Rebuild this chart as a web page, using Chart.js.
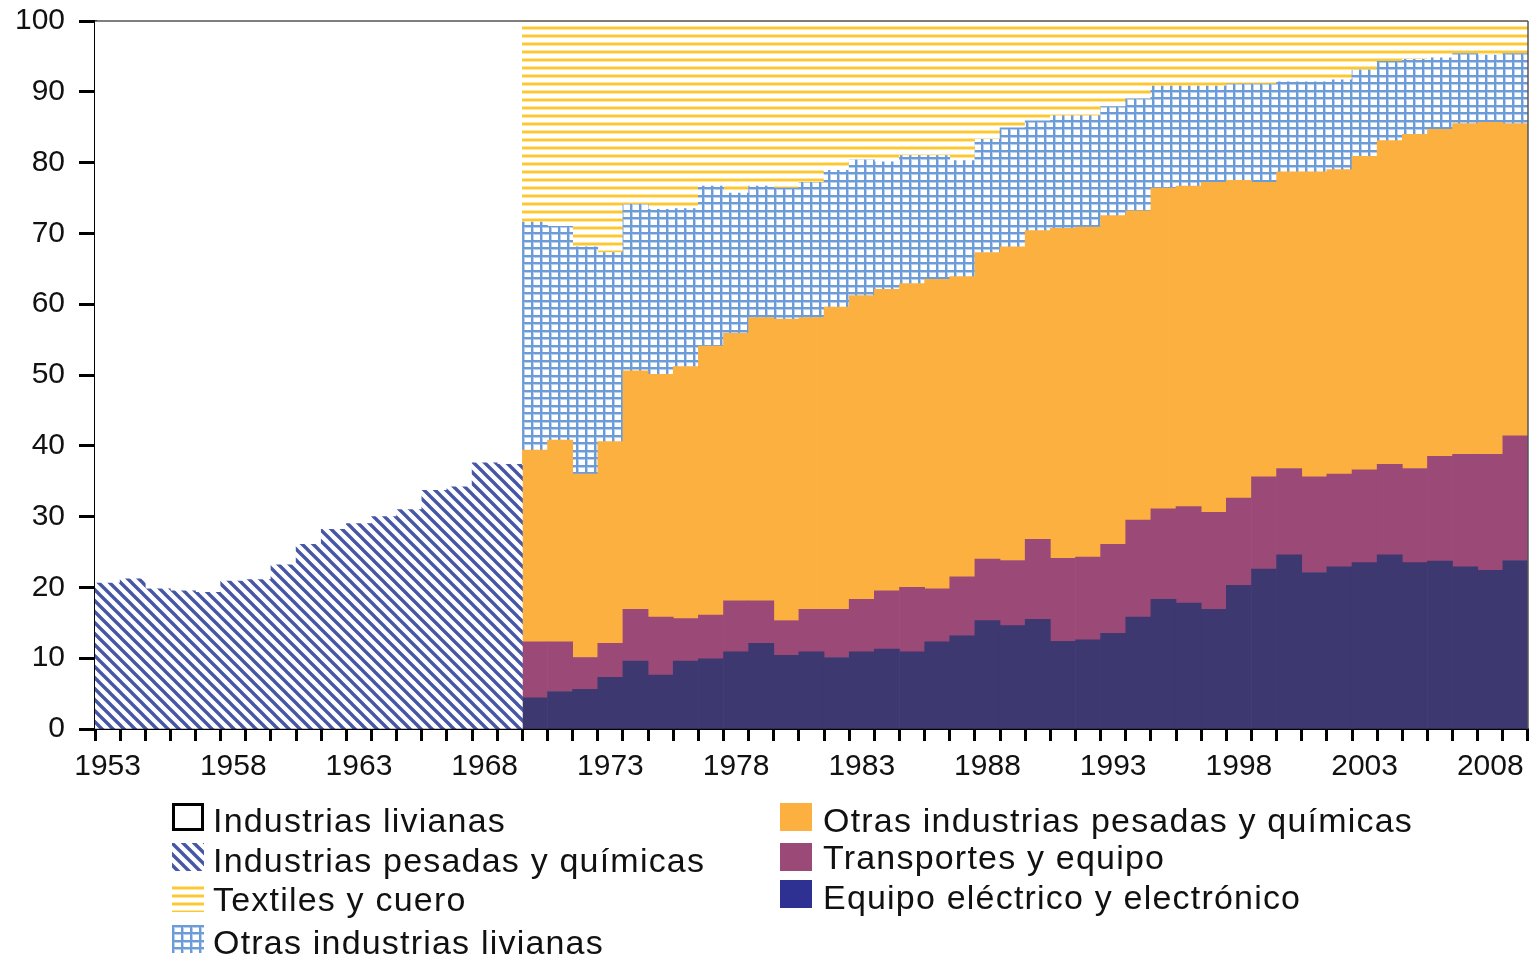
<!DOCTYPE html>
<html>
<head>
<meta charset="utf-8">
<script src="https://cdn.jsdelivr.net/npm/chart.js@4.4.1/dist/chart.umd.min.js"></script>
<style>
	html, body { margin: 0; padding: 0; background: #fff; }
	#wrap { position: relative; width: 1530px; height: 958px; overflow: hidden; }
	#chart { position: absolute; left: 0; top: 0; }
	.item { position: absolute; font-family: "Liberation Sans", Arial, sans-serif; font-size: 34px;
		line-height: 34px; letter-spacing: 1.2px; color: #111; white-space: nowrap; }
	.sw { position: absolute; width: 32px; height: 28px; }
</style>
</head>
<body>
<div id="wrap">
	<canvas id="chart" width="1530" height="958"></canvas>

	<div class="sw" style="left:172px; top:803px; width:26px; height:22px; border:3px solid #000;"></div>
	<canvas class="sw" id="sw-hatch" width="32" height="28" style="left:172px; top:843px;"></canvas>
	<canvas class="sw" id="sw-text" width="32" height="28" style="left:172px; top:884px;"></canvas>
	<canvas class="sw" id="sw-grid" width="32" height="28" style="left:172px; top:925px;"></canvas>
	<div class="item" style="left:213px; top:803px;">Industrias livianas</div>
	<div class="item" style="left:213px; top:843px;">Industrias pesadas y químicas</div>
	<div class="item" style="left:213px; top:882px;">Textiles y cuero</div>
	<div class="item" style="left:213px; top:925px;">Otras industrias livianas</div>

	<div class="sw" style="left:780px; top:803px; background:#fbb040;"></div>
	<div class="sw" style="left:780px; top:843px; background:#9b4a78;"></div>
	<div class="sw" style="left:780px; top:880px; background:#2e3191;"></div>
	<div class="item" style="left:823px; top:803px;">Otras industrias pesadas y químicas</div>
	<div class="item" style="left:823px; top:840px;">Transportes y equipo</div>
	<div class="item" style="left:823px; top:880px;">Equipo eléctrico y electrónico</div>
</div>
<script>
const Years = [];
for (let y = 1953; y <= 2009; y++)
	Years.push(String(y));

// 1953-1969
const PesadasQuimicas = [ 20.6, 21.2, 19.8, 19.5, 19.3, 20.9, 21.1, 23.2, 26.1, 28.2,
		29.0, 30.0, 31.0, 33.7, 34.2, 37.6, 37.4 ];
const Livianas = [ 79.4, 78.8, 80.2, 80.5, 80.7, 79.1, 78.9, 76.8, 73.9, 71.8,
		71.0, 70.0, 69.0, 66.3, 65.8, 62.4, 62.6 ];

// 1970-2009
const EquipoElectrico = [ 4.4, 5.3, 5.6, 7.3, 9.6, 7.6, 9.6, 9.9, 10.9, 12.1,
		10.4, 10.9, 10.1, 10.9, 11.3, 10.9, 12.3, 13.2, 15.3, 14.6,
		15.5, 12.4, 12.6, 13.5, 15.8, 18.3, 17.8, 16.9, 20.3, 22.6,
		24.6, 22.1, 22.9, 23.5, 24.6, 23.5, 23.7, 22.9, 22.4, 23.8 ];
const Transportes = [ 7.9, 7.0, 4.5, 4.8, 7.3, 8.2, 6.0, 6.2, 7.2, 6.0,
		4.9, 6.0, 6.8, 7.4, 8.2, 9.1, 7.5, 8.3, 8.7, 9.2,
		11.3, 11.7, 11.7, 12.6, 13.7, 12.8, 13.6, 13.7, 12.3, 13.0,
		12.2, 13.5, 13.1, 13.1, 12.8, 13.3, 14.8, 15.9, 16.4, 17.6 ];
const OtrasPesadas = [ 27.1, 28.5, 25.9, 28.5, 33.7, 34.3, 35.6, 38.0, 37.8, 40.0,
		42.6, 41.2, 42.7, 42.9, 42.6, 42.9, 43.7, 42.4, 43.3, 44.3,
		43.6, 46.6, 46.6, 46.4, 43.7, 45.3, 45.3, 46.6, 44.9, 41.6,
		41.9, 43.1, 43.0, 44.3, 45.7, 47.2, 46.2, 46.7, 46.9, 44.1 ];
const OtrasLivianas = [ 32.2, 30.2, 32.1, 26.7, 23.5, 23.3, 22.3, 22.6, 19.8, 18.6,
		18.5, 19.1, 19.3, 19.2, 18.0, 18.1, 17.5, 16.4, 16.0, 16.8,
		15.5, 15.9, 15.7, 15.4, 15.8, 14.4, 14.1, 13.6, 13.6, 13.9,
		12.7, 12.7, 12.7, 12.2, 11.2, 10.6, 10.1, 9.9, 9.5, 9.9 ];
const Textiles = [ 28.4, 29.0, 31.9, 32.7, 25.9, 26.6, 26.5, 23.3, 24.3, 23.3,
		23.6, 22.8, 21.1, 19.6, 19.9, 19.0, 19.0, 19.7, 16.7, 15.1,
		14.1, 13.4, 13.4, 12.1, 11.0, 9.2, 9.2, 9.2, 8.9, 8.9,
		8.6, 8.6, 8.3, 6.9, 5.7, 5.4, 5.2, 4.6, 4.8, 4.6 ];

const FirstLate = 17;	// index of 1970

function Early(values)
{
	return Years.map((y, i) => i < FirstLate ? values[i] : null);
}

function Late(values)
{
	return Years.map((y, i) => i >= FirstLate ? values[i - FirstLate] : null);
}

function HatchPattern()
{
	const p = 11;
	const c = document.createElement("canvas");
	c.width = p; c.height = p;
	const ctx = c.getContext("2d");
	ctx.fillStyle = "#fff";
	ctx.fillRect(0, 0, p, p);
	ctx.strokeStyle = "#4757a6";
	ctx.lineWidth = 3.4;
	ctx.beginPath();
	for (let k = -1; k <= 1; k++)
	{
		ctx.moveTo(k * p - 1, -1);
		ctx.lineTo(k * p + p + 1, p + 1);
	}
	ctx.stroke();
	return ctx.createPattern(c, "repeat");
}

function GridPattern()
{
	const c = document.createElement("canvas");
	c.width = 9; c.height = 15;
	const ctx = c.getContext("2d");
	ctx.fillStyle = "#fff";
	ctx.fillRect(0, 0, 9, 15);
	ctx.fillStyle = "#b8d0ee";
	ctx.fillRect(2, 0, 1, 15);
	ctx.fillRect(0, 2, 9, 1);
	ctx.fillRect(0, 9, 9, 1);
	ctx.fillStyle = "#6c9cd7";
	ctx.fillRect(0, 0, 2, 15);
	ctx.fillRect(0, 0, 9, 2);
	ctx.fillRect(0, 7, 9, 2);
	return ctx.createPattern(c, "repeat");
}

function TextilePattern()
{
	const c = document.createElement("canvas");
	c.width = 4; c.height = 8;
	const ctx = c.getContext("2d");
	ctx.fillStyle = "#fff";
	ctx.fillRect(0, 0, 4, 8);
	ctx.fillStyle = "#ffe6a0";
	ctx.fillRect(0, 2, 4, 1);
	ctx.fillRect(0, 5, 4, 1);
	ctx.fillStyle = "#fec72c";
	ctx.fillRect(0, 3, 4, 2);
	return ctx.createPattern(c, "repeat");
}

const hatch = HatchPattern();
const grid = GridPattern();
const textile = TextilePattern();

function FillSwatch(id, pattern)
{
	const ctx = document.getElementById(id).getContext("2d");
	ctx.fillStyle = pattern;
	ctx.fillRect(0, 0, 32, 28);
}
FillSwatch("sw-hatch", hatch);
FillSwatch("sw-grid", grid);
FillSwatch("sw-text", textile);

const frameLines = {
	id: "frameLines",
	afterDraw(chart)
	{
		const { ctx, chartArea: { top, right, bottom, left } } = chart;
		ctx.save();
		ctx.strokeStyle = "#555";
		ctx.lineWidth = 1.5;
		ctx.beginPath();
		ctx.moveTo(left, top);
		ctx.lineTo(right, top);
		ctx.moveTo(right, top);
		ctx.lineTo(right, bottom);
		ctx.stroke();
		ctx.restore();
	}
};

const tickFont = { family: "'Liberation Sans', Arial, sans-serif", size: 30 };

new Chart(document.getElementById("chart"), {
	type: "bar",
	data: {
		labels: Years,
		datasets: [
			{ label: "Industrias pesadas y químicas", data: Early(PesadasQuimicas), backgroundColor: hatch },
			{ label: "Equipo eléctrico y electrónico", data: Late(EquipoElectrico), backgroundColor: "#3d3870" },
			{ label: "Transportes y equipo", data: Late(Transportes), backgroundColor: "#9b4a78" },
			{ label: "Otras industrias pesadas y químicas", data: Late(OtrasPesadas), backgroundColor: "#fbb040" },
			{ label: "Otras industrias livianas", data: Late(OtrasLivianas), backgroundColor: grid },
			{ label: "Textiles y cuero", data: Late(Textiles), backgroundColor: textile },
			{ label: "Industrias livianas", data: Early(Livianas), backgroundColor: "#fff" },
		]
	},
	options: {
		responsive: false,
		animation: false,
		devicePixelRatio: 1,
		layout: { padding: { top: 21, right: 2, left: 0, bottom: 0 } },
		datasets: {
			bar: { categoryPercentage: 1, barPercentage: 1, borderWidth: 0 }
		},
		plugins: {
			legend: { display: false },
			tooltip: { enabled: true },
		},
		scales: {
			x: {
				stacked: true,
				offset: true,
				grid: { offset: true, drawOnChartArea: false, tickLength: 12, tickWidth: 3, tickColor: "#000" },
				border: { color: "#000", width: 2 },
				ticks: {
					autoSkip: false,
					maxRotation: 0,
					padding: 8,
					color: "#111",
					font: tickFont,
					callback: function(value, index)
					{
						return index % 5 == 0 ? Years[index] : "";
					}
				},
				afterFit: scale => { scale.height = 229; scale.paddingLeft = 0; scale.paddingRight = 0; },
			},
			y: {
				stacked: true,
				min: 0,
				max: 100,
				grid: { drawOnChartArea: false, tickLength: 16, tickWidth: 3, tickColor: "#000" },
				border: { color: "#000", width: 3 },
				ticks: { stepSize: 10, padding: 14, color: "#111", font: tickFont },
				afterFit: scale => { scale.width = 95; scale.paddingTop = 0; scale.paddingBottom = 0; },
			}
		}
	},
	plugins: [ frameLines ],
});
</script>
</body>
</html>
